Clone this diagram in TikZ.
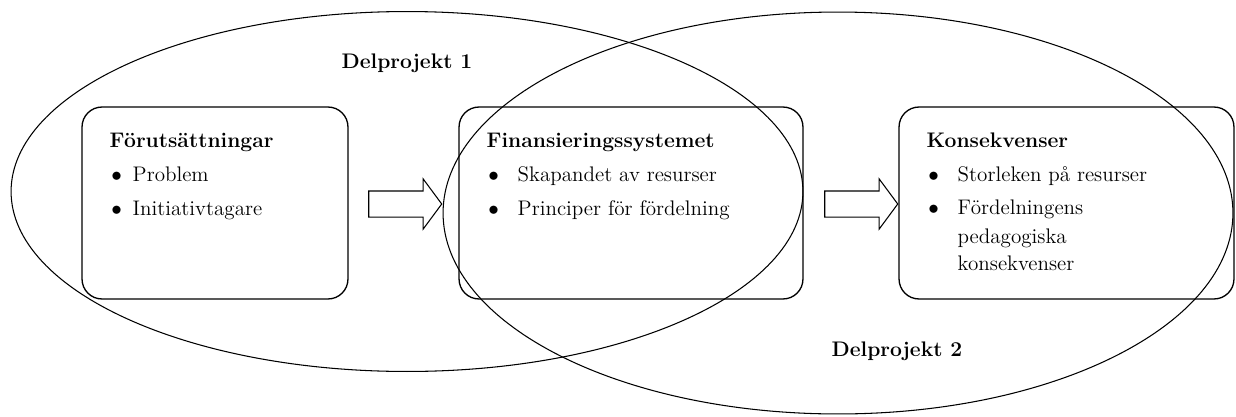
\documentclass[tikz,border=0pt]{standalone}
\usetikzlibrary{shapes.geometric, shapes.arrows, positioning}
\tikzset{Venn/.style = {% styles for the two sub-projects picture
      box/.style = {draw, rounded corners=0.4cm, line width=0.75pt,
                    minimum height=3.84cm, inner sep=0pt},
      txt/.style = {anchor=base west, inner sep=0pt,
                    font=\fontsize{12}{14.5}\selectfont},
     part/.style = {line width=0.6pt},
    title/.style = {anchor=base, inner sep=0pt,
                    font=\fontsize{12}{14.5}\selectfont\bfseries},
 fatarrow/.style = {single arrow, draw, line width=0.6pt, anchor=tip,
                    minimum height=1.46cm, inner xsep=0pt, inner ysep=0.25cm,
                    text height=0pt, text depth=0pt, text width=0pt,
                    single arrow head extend=0.24cm,
                    single arrow tip angle=107}}
        }
\newcommand\bul[1]{\makebox[#1][l]{\hspace{1pt}$\bullet$}}

\begin{document}
\begin{tikzpicture}[Venn, x=0.02cm, y=-0.02cm]
\useasboundingbox (0,0) rectangle (1236,416);

% nodes
\node (pre) [box, minimum width=5.32cm] at (215,203) {};
\node (fin) [box, minimum width=6.88cm] at (631,203) {};
\node (kon) [box, minimum width=6.70cm] at (1066.5,203) {};

\node (pretxt) [txt] at ([xshift=0.56cm, yshift=-0.82cm]pre.north west)
  {\begin{tabular}[t]{@{}l@{}}
   \textbf{Förutsättningar}\\[5pt]
   \bul{0.46cm}Problem\\[5pt]
   \bul{0.46cm}Initiativtagare
   \end{tabular}};
\node (fintxt) [txt] at ([xshift=0.56cm, yshift=-0.82cm]fin.north west)
  {\begin{tabular}[t]{@{}l@{}}
   \textbf{Finansieringssystemet}\\[5pt]
   \bul{0.62cm}Skapandet av resurser\\[5pt]
   \bul{0.62cm}Principer för fördelning
   \end{tabular}};
\node (kontxt) [txt] at ([xshift=0.56cm, yshift=-0.82cm]kon.north west)
  {\begin{tabular}[t]{@{}l@{}}
   \textbf{Konsekvenser}\\[5pt]
   \bul{0.62cm}Storleken på resurser\\[4pt]
   \bul{0.62cm}Fördelningens\\[2pt]
   \hspace{0.62cm}pedagogiska\\[1pt]
   \hspace{0.62cm}konsekvenser
   \end{tabular}};

% arrows between the boxes
\node (a1) [fatarrow] at ([xshift=-0.32cm, yshift=-0.02cm]fin.west) {};
\node (a2) [fatarrow] at ([yshift=-0.02cm]kon.west) {};

% sub-projects
\draw [part] (407,191.5) ellipse [x radius=7.92cm, y radius=3.6cm];
\draw [part] (838,213) ellipse [x radius=7.9cm, y radius=4.02cm];
\node (dp1) [title] at (407,68) {Delprojekt 1};
\node (dp2) [title] at (897,356) {Delprojekt 2};

\end{tikzpicture}
\end{document}
